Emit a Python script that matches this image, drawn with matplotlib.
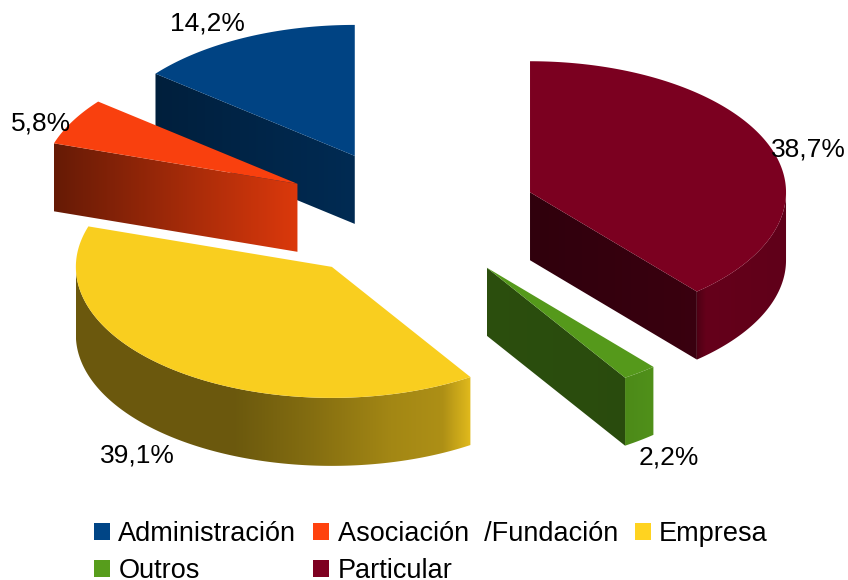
import numpy as np
import matplotlib
matplotlib.use('Agg')
import matplotlib.pyplot as plt
from matplotlib.patches import Polygon, Patch

plt.rcParams['font.family'] = ['Liberation Sans', 'DejaVu Sans']

# slices, clockwise from twelve o'clock
categories = ['Particular', 'Outros', 'Empresa', 'Asociación  /Fundación', 'Administración']
shares = [38.7, 2.2, 39.1, 5.8, 14.2]
colours = ['#7e0021', '#579d1c', '#ffd320', '#ff420e', '#004586']

# picture geometry, pixels
CX, CY = 410, 215
RX, RY = 256, 131
DEPTH = 68
EXPLODE = 0.5

# brightness stops (fraction of wall width, factor)
outer_shade = {
    'Particular': [(0, 0.62), (0.1, 0.8), (1, 0.76)],
    'Outros': [(0, 0.88), (1, 0.92)],
    'Empresa': [(0, 0.42), (0.4, 0.42), (0.6, 0.52), (0.8, 0.64), (0.93, 0.68), (1, 0.88)],
}
radial_shade = {
    'Particular': [(0, 0.38), (1, 0.46)],
    'Outros': [(0, 0.5), (1, 0.48)],
    'Asociación  /Fundación': [(0, 0.4), (1, 0.86)],
    'Administración': [(0, 0.45), (1, 0.62)],
}
# which end of the slice shows its cut face
radial_end = {'Particular': 1, 'Outros': 1, 'Asociación  /Fundación': 0, 'Administración': 0}

label_xy = [(808, 149), (669, 457), (137, 455), (41, 123), (207, 24)]


def ell(t):
    return RX * np.sin(t), -RY * np.cos(t)


def face(ax, pts, colour, stops=None):
    pts = np.array(pts)
    poly = Polygon(pts, closed=True, transform=ax.transData, fc='none', ec='none')
    ax.add_patch(poly)
    x0, x1 = pts[:, 0].min(), pts[:, 0].max()
    y0, y1 = pts[:, 1].min(), pts[:, 1].max()
    f = np.linspace(0, 1, 256)
    fac = np.interp(f, [s[0] for s in stops], [s[1] for s in stops])
    rgb = np.array(matplotlib.colors.to_rgb(colour))
    img = (fac[:, None] * rgb)[None, :, :]
    im = ax.imshow(img, extent=(x0, x1, y1, y0), aspect='auto', interpolation='bilinear', zorder=2)
    im.set_clip_path(poly)


fig = plt.figure(figsize=(8.48, 5.8), dpi=100)
ax = fig.add_axes([0, 0, 1, 1])

angles = np.radians(np.cumsum([0] + shares) * 3.6)
# back slices first so the nearer walls sit on top
for i in [4, 3, 2, 1, 0]:
    name = categories[i]
    a, b = angles[i], angles[i + 1]
    ox, oy = ell((a + b) / 2)
    px, py = CX + EXPLODE * ox, CY + EXPLODE * oy
    t = np.linspace(a, b, 400)
    ex, ey = ell(t)
    ax_x, ax_y = px + ex, py + ey

    if name in outer_shade:
        # only the part of the rim turned towards the viewer
        keep = (t >= np.pi / 2) & (t <= 1.5 * np.pi)
        xs, ys = ax_x[keep], ax_y[keep]
        pts = list(zip(xs, ys)) + list(zip(xs[::-1], ys[::-1] + DEPTH))
        face(ax, pts, colours[i], outer_shade[name])
    if name in radial_end:
        j = -1 if radial_end[name] else 0
        pts = [(px, py), (ax_x[j], ax_y[j]), (ax_x[j], ax_y[j] + DEPTH), (px, py + DEPTH)]
        face(ax, pts, colours[i], radial_shade[name])

    top = [(px, py)] + list(zip(ax_x, ax_y))
    ax.add_patch(Polygon(top, closed=True, fc=np.array(matplotlib.colors.to_rgb(colours[i])) * 0.975,
                         ec='none', zorder=3))

for v, (x, y) in zip(shares, label_xy):
    ax.text(x, y, ('%.1f%%' % v).replace('.', ','), fontsize=19, ha='center', va='center',
            color='black', zorder=5)

order = [4, 1, 3, 0, 2]
handles = [Patch(fc=colours[i], ec='none', label=categories[i]) for i in order]
ax.legend(handles=handles, ncol=3, loc='lower left', bbox_to_anchor=(94, 584),
          bbox_transform=ax.transData, frameon=False, fontsize=19.5, borderpad=0, borderaxespad=0,
          handlelength=0.6, handleheight=0.6, handletextpad=0.3, columnspacing=0.62, labelspacing=0.4)

ax.set_xlim(0, 848)
ax.set_ylim(580, 0)
ax.axis('off')

plt.savefig('out.png', dpi=100)
